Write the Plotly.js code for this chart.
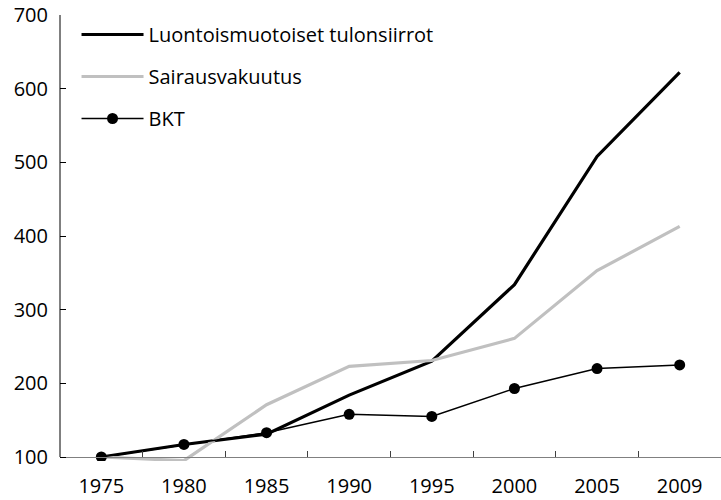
<!DOCTYPE html>
<html>
<head>
<meta charset="utf-8">
<script src="https://cdn.plot.ly/plotly-3.0.1.min.js"></script>
<style>html,body{margin:0;padding:0;background:#fff}#chart{width:721px;height:500px}</style>
</head>
<body>
<div id="chart"></div>
<script>
const years = ["1975","1980","1985","1990","1995","2000","2005","2009"];
const luontoismuotoiset = [100, 117, 131, 184, 230, 334, 508, 622];
const sairausvakuutus = [100, 95, 171, 223, 231, 261, 353, 413];
const bkt = [100, 117, 133, 158, 155, 193, 220, 225];
const seriesNames = ["Luontoismuotoiset tulonsiirrot", "Sairausvakuutus", "BKT"];
const yTicks = [100, 200, 300, 400, 500, 600, 700];

const FONT = "Open Sans, Noto Sans, sans-serif";
const Y_MIN = 94.57, Y_MAX = 700, Y_BASE = 100;

const traces = [
  {x: years, y: luontoismuotoiset, name: seriesNames[0], type: "scatter", mode: "lines",
   line: {color: "#000000", width: 3.2}, legendgroup: "a"},
  {x: years, y: sairausvakuutus, name: seriesNames[1], type: "scatter", mode: "lines",
   line: {color: "#c0c0c0", width: 3.2}, legendgroup: "b"},
  {x: years, y: bkt, name: seriesNames[2], type: "scatter", mode: "lines+markers",
   line: {color: "#000000", width: 1.5}, marker: {color: "#000000", size: 11}, legendgroup: "c"}
];

const layout = {
  width: 721, height: 500,
  margin: {l: 60, r: 0, t: 15, b: 39},
  paper_bgcolor: "#ffffff", plot_bgcolor: "#ffffff",
  font: {family: FONT, size: 20, color: "#000000"},
  showlegend: true,
  legend: {x: 0.025, y: 1.0, xanchor: "left", yanchor: "top", bgcolor: "rgba(0,0,0,0)",
           font: {family: FONT, size: 20, color: "#000000"}, tracegroupgap: 13, itemwidth: 62,
           traceorder: "grouped"},
  xaxis: {type: "category", range: [-0.5, 7.5], showgrid: false, zeroline: false,
          anchor: "free", position: (Y_BASE - Y_MIN) / (Y_MAX - Y_MIN),
          showline: true, linecolor: "#808080", linewidth: 1.5,
          ticks: "inside", tickson: "boundaries", ticklen: 6, tickcolor: "#404040", tickwidth: 1,
          ticklabelstandoff: 11, tickfont: {family: FONT, size: 20, color: "#000"}},
  yaxis: {range: [Y_MIN, Y_MAX], tickvals: yTicks, showgrid: false, zeroline: false,
          showline: false,
          ticks: "inside", ticklen: 6, tickcolor: "#000", tickwidth: 1,
          ticklabelstandoff: 11, tickfont: {family: FONT, size: 20, color: "#000"}},
  shapes: [{type: "line", xref: "paper", yref: "y", x0: 0, x1: 0, y0: Y_BASE, y1: Y_MAX,
            line: {color: "#000000", width: 1}, layer: "above"}]
};

Plotly.newPlot("chart", traces, layout, {displayModeBar: false, staticPlot: true});
</script>
</body>
</html>
